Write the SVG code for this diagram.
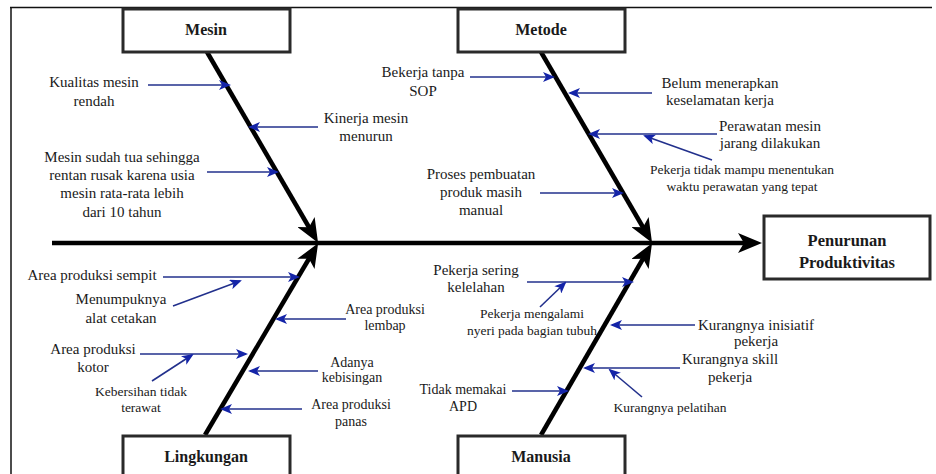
<svg xmlns="http://www.w3.org/2000/svg" width="936" height="474" viewBox="0 0 936 474">
<style>
text{font-family:"Liberation Serif","Times New Roman",serif;fill:#1a1a1a;text-anchor:middle}
.t15{font-size:15px}
.t14{font-size:14px}
.t13{font-size:13.5px}
.hd{font-size:16px;font-weight:bold}
.hd2{font-size:16.5px;font-weight:bold}
.box{fill:#fff;stroke:#2a2a2a;stroke-width:3}
.bone{stroke:#000;stroke-width:4.5;fill:none}
.ar{stroke:#22308c;stroke-width:1.6;fill:none}
</style>
<defs>
<marker id="big" viewBox="0 0 24 20" refX="8" refY="10" markerWidth="24" markerHeight="20" markerUnits="userSpaceOnUse" orient="auto">
<path d="M0,0 L24,10 L0,20 L6,10 z" fill="#000"/>
</marker>
<marker id="sm" viewBox="0 0 12 10" refX="10" refY="5" markerWidth="12" markerHeight="10" markerUnits="userSpaceOnUse" orient="auto">
<path d="M0,0 L12,5 L0,10 L3,5 z" fill="#1424a8"/>
</marker>
</defs>
<g id="frame">
<line x1="10" y1="7.5" x2="932" y2="7.5" stroke="#111" stroke-width="1.5"/>
<line x1="11" y1="7" x2="11" y2="474" stroke="#111" stroke-width="1.5"/>
</g>
<g id="connectors">
<line class="bone" x1="52" y1="243" x2="746" y2="243" marker-end="url(#big)" stroke-width="5"/>
<line class="bone" x1="207" y1="52" x2="310" y2="229" marker-end="url(#big)"/>
<line class="bone" x1="541" y1="52" x2="644" y2="229" marker-end="url(#big)"/>
<line class="bone" x1="205" y1="435" x2="310" y2="257" marker-end="url(#big)"/>
<line class="bone" x1="541" y1="435" x2="644" y2="257" marker-end="url(#big)"/>
<line class="ar" x1="148" y1="85" x2="229" y2="85" marker-end="url(#sm)"/>
<line class="ar" x1="318" y1="127" x2="250" y2="127" marker-end="url(#sm)"/>
<line class="ar" x1="207" y1="172" x2="277" y2="172" marker-end="url(#sm)"/>
<line class="ar" x1="470" y1="77" x2="553" y2="77" marker-end="url(#sm)"/>
<line class="ar" x1="652" y1="93" x2="570" y2="93" marker-end="url(#sm)"/>
<line class="ar" x1="717" y1="134" x2="590" y2="134" marker-end="url(#sm)"/>
<line class="ar" x1="712" y1="160" x2="645" y2="136" marker-end="url(#sm)"/>
<line class="ar" x1="540" y1="193" x2="622" y2="193" marker-end="url(#sm)"/>
<line class="ar" x1="163" y1="277" x2="298" y2="277" marker-end="url(#sm)"/>
<line class="ar" x1="173" y1="306" x2="240" y2="281" marker-end="url(#sm)"/>
<line class="ar" x1="346" y1="319" x2="277" y2="319" marker-end="url(#sm)"/>
<line class="ar" x1="140" y1="354" x2="246" y2="354" marker-end="url(#sm)"/>
<line class="ar" x1="152" y1="381" x2="192" y2="355" marker-end="url(#sm)"/>
<line class="ar" x1="318" y1="371" x2="250" y2="371" marker-end="url(#sm)"/>
<line class="ar" x1="302" y1="409" x2="222" y2="409" marker-end="url(#sm)"/>
<line class="ar" x1="527" y1="282" x2="632" y2="282" marker-end="url(#sm)"/>
<line class="ar" x1="540" y1="307" x2="565" y2="283" marker-end="url(#sm)"/>
<line class="ar" x1="695" y1="325" x2="612" y2="325" marker-end="url(#sm)"/>
<line class="ar" x1="680" y1="368" x2="585" y2="368" marker-end="url(#sm)"/>
<line class="ar" x1="642" y1="397" x2="610" y2="370" marker-end="url(#sm)"/>
<line class="ar" x1="512" y1="391" x2="567" y2="391" marker-end="url(#sm)"/>
</g>
<g id="mesin"><rect class="box" x="123" y="9" width="167" height="43"/><text class="hd" x="206" y="35">Mesin</text></g>
<g id="metode"><rect class="box" x="458" y="9" width="167" height="43"/><text class="hd" x="541" y="35">Metode</text></g>
<g id="lingkungan"><rect class="box" x="123" y="436" width="167" height="50"/><text class="hd" x="206" y="462">Lingkungan</text></g>
<g id="manusia"><rect class="box" x="458" y="436" width="167" height="50"/><text class="hd" x="541" y="462">Manusia</text></g>
<g id="effect"><rect class="box" x="764" y="216" width="166" height="63"/><text class="hd2" x="847" y="246">Penurunan</text><text class="hd2" x="847" y="268">Produktivitas</text></g>
<g id="c-kualitas"><text class="t15" x="94" y="87">Kualitas mesin</text><text class="t15" x="94" y="106">rendah</text></g>
<g id="c-kinerja"><text class="t15" x="366" y="123">Kinerja mesin</text><text class="t15" x="366" y="141">menurun</text></g>
<g id="c-tua"><text class="t15" x="122" y="162">Mesin sudah tua sehingga</text><text class="t15" x="122" y="180">rentan rusak karena usia</text><text class="t15" x="122" y="198">mesin rata-rata lebih</text><text class="t15" x="122" y="217">dari 10 tahun</text></g>
<g id="c-sop"><text class="t15" x="423" y="77">Bekerja tanpa</text><text class="t15" x="423" y="96">SOP</text></g>
<g id="c-belum"><text class="t15" x="720" y="88">Belum menerapkan</text><text class="t15" x="720" y="105">keselamatan kerja</text></g>
<g id="c-perawatan"><text class="t15" x="770" y="131">Perawatan mesin</text><text class="t15" x="770" y="148">jarang dilakukan</text></g>
<g id="c-waktu"><text class="t13" x="742" y="174">Pekerja tidak mampu menentukan</text><text class="t13" x="742" y="191">waktu perawatan yang tepat</text></g>
<g id="c-proses"><text class="t15" x="481" y="179">Proses pembuatan</text><text class="t15" x="481" y="197">produk masih</text><text class="t15" x="481" y="215">manual</text></g>
<g id="c-sempit"><text class="t15" x="92" y="280">Area produksi sempit</text></g>
<g id="c-menumpuk"><text class="t15" x="121" y="304">Menumpuknya</text><text class="t15" x="121" y="323">alat cetakan</text></g>
<g id="c-lembap"><text class="t14" x="385" y="314">Area produksi</text><text class="t14" x="385" y="330">lembap</text></g>
<g id="c-kotor"><text class="t15" x="93" y="354">Area produksi</text><text class="t15" x="93" y="372">kotor</text></g>
<g id="c-kebersihan"><text class="t13" x="141" y="396">Kebersihan tidak</text><text class="t13" x="141" y="412">terawat</text></g>
<g id="c-bising"><text class="t14" x="352" y="367">Adanya</text><text class="t14" x="352" y="382">kebisingan</text></g>
<g id="c-panas"><text class="t14" x="351" y="409">Area produksi</text><text class="t14" x="351" y="426">panas</text></g>
<g id="c-lelah"><text class="t15" x="476" y="275">Pekerja sering</text><text class="t15" x="476" y="292">kelelahan</text></g>
<g id="c-nyeri"><text class="t13" x="532" y="318">Pekerja mengalami</text><text class="t13" x="532" y="335">nyeri pada bagian tubuh</text></g>
<g id="c-inisiatif"><text class="t15" x="756" y="330">Kurangnya inisiatif</text><text class="t15" x="756" y="346">pekerja</text></g>
<g id="c-skill"><text class="t15" x="730" y="364">Kurangnya skill</text><text class="t15" x="730" y="382">pekerja</text></g>
<g id="c-pelatihan"><text class="t13" x="670" y="412">Kurangnya pelatihan</text></g>
<g id="c-apd"><text class="t14" x="463" y="394">Tidak memakai</text><text class="t14" x="463" y="411">APD</text></g>
</svg>
